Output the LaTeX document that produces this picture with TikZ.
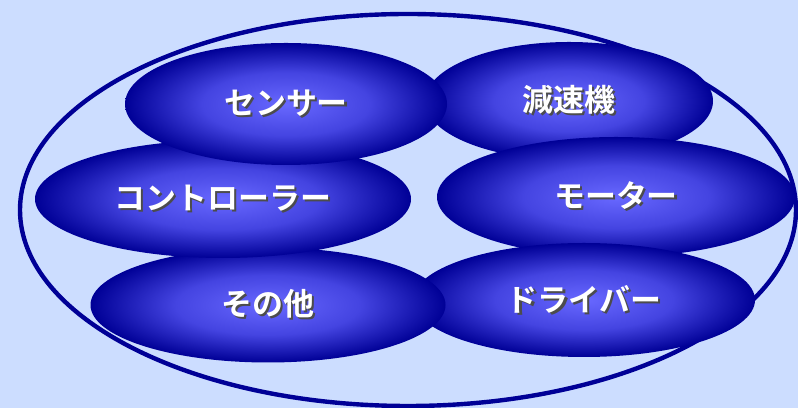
\documentclass[tikz,border=0pt]{standalone}
\usepackage{fontspec}
\newfontfamily\jpfont{Noto Sans CJK JP}[BoldFont={* Bold}]
\usetikzlibrary{shapes.geometric}
\definecolor{bgblue}{RGB}{204,221,255}
\definecolor{partnavy}{RGB}{0,0,150}
\definecolor{partmid}{RGB}{68,68,225}
\definecolor{partlight}{RGB}{104,104,255}
\pgfdeclareradialshading{partshade}{\pgfpoint{0bp}{0bp}}{color(0bp)=(partlight); color(13bp)=(partmid); color(25bp)=(partnavy); color(50bp)=(partnavy)}
% white label with a dark drop shadow
\newcommand{\shadowlabel}[1]{\rlap{\kern1.5pt\raisebox{-1.5pt}{\textcolor{black!70}{#1}}}#1}
\begin{document}
\begin{tikzpicture}[
    part/.style={ellipse, inner sep=0pt, shading=partshade,
      text=white, font=\jpfont\bfseries\fontsize{22}{22}\selectfont}
  ]
  \fill[bgblue] (0,0) rectangle (19.95,10.2);
  \useasboundingbox (0,0) rectangle (19.95,10.2);
  \draw[partnavy, line width=0.11cm] (10.2,4.95) ellipse (9.7 and 4.9);
  % back to front
  \node[part, minimum width=7.2cm, minimum height=2.95cm] (gensoku) at (14.225,7.675) {\shadowlabel{減速機}};
  \node[part, minimum width=8.95cm, minimum height=3.0cm] (motor) at (15.4,5.275) {\shadowlabel{モーター}};
  \node[part, minimum width=8.55cm, minimum height=2.85cm] (driver) at (14.6,2.7) {\shadowlabel{ドライバー}};
  \node[part, minimum width=8.875cm, minimum height=2.875cm] (sonota) at (6.7,2.575) {\shadowlabel{その他}};
  \node[part, minimum width=9.4cm, minimum height=2.95cm] (controller) at (5.575,5.225) {\shadowlabel{コントローラー}};
  \node[part, minimum width=8.05cm, minimum height=3.05cm] (sensor) at (7.15,7.6) {\shadowlabel{センサー}};
\end{tikzpicture}
\end{document}
